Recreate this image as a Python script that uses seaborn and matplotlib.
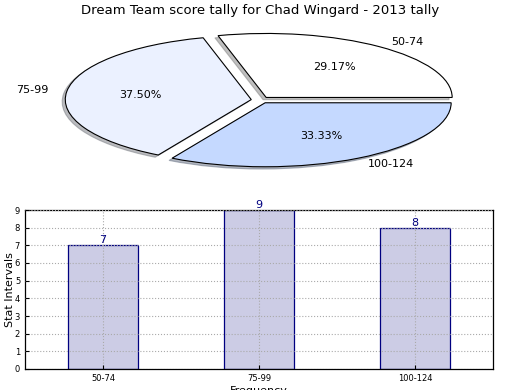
import matplotlib
matplotlib.use("Agg")
import matplotlib.pyplot as plt
import seaborn as sns
import pandas as pd

# score tally for 2013
intervals = ["50-74", "75-99", "100-124"]
counts = [7, 9, 8]
pie_colors = ["#ffffff", "#ebf1ff", "#c5d9ff"]

sns.set_style("white")
plt.rcParams['font.family'] = ['DejaVu Sans']
plt.rcParams['text.color'] = 'black'
plt.rcParams['axes.labelcolor'] = 'black'
plt.rcParams['xtick.color'] = 'black'
plt.rcParams['ytick.color'] = 'black'

fig = plt.figure(figsize=(5.2, 3.9), dpi=100)

# pie on top, stretched to an ellipse
ax1 = fig.add_axes([28/520, 1 - 180/390, 465/520, 160/390])
ax1.pie(counts, labels=intervals, colors=pie_colors, autopct='%1.2f%%',
        explode=(0.05, 0.05, 0.05),
        shadow={'ox': -0.012, 'oy': -0.025, 'shade': 0.5},
        startangle=0,
        wedgeprops={'edgecolor': 'black', 'linewidth': 0.8},
        textprops={'fontsize': 8, 'color': 'black'})
ax1.set_aspect('auto')
ax1.set_xlim(-1.25, 1.25)
ax1.set_ylim(-1.25, 1.25)
ax1.set_title("Dream Team score tally for Chad Wingard - 2013 tally",
              fontsize=9.5, pad=4, color='black')

# bar chart below
ax2 = fig.add_axes([25/520, 1 - 369/390, 468/520, 159/390])
df = pd.DataFrame({'interval': intervals, 'count': counts})
sns.barplot(data=df, x='interval', y='count', ax=ax2, width=0.45,
            color=(0, 0, 0.5, 0.2), edgecolor='navy', linewidth=0.9, saturation=1)
for i, c in enumerate(counts):
    ax2.text(i, c, str(c), ha='center', va='bottom', color='navy', fontsize=8)
ax2.set_xlim(-0.5, 2.5)
ax2.set_ylim(0, 9)
ax2.set_yticks(range(0, 10))
ax2.grid(True, linestyle=':', color='#aaaaaa', linewidth=0.8)
ax2.set_axisbelow(False)
ax2.tick_params(direction='in', labelsize=6, length=3, left=True, bottom=True)
for s in ax2.spines.values():
    s.set_color('black')
    s.set_linewidth(0.9)
ax2.set_xlabel("Frequency", fontsize=8, labelpad=2)
ax2.set_ylabel("Stat Intervals", fontsize=8)
ax2.yaxis.set_label_coords(-0.022, 0.5)

fig.savefig("out.png", dpi=100)
